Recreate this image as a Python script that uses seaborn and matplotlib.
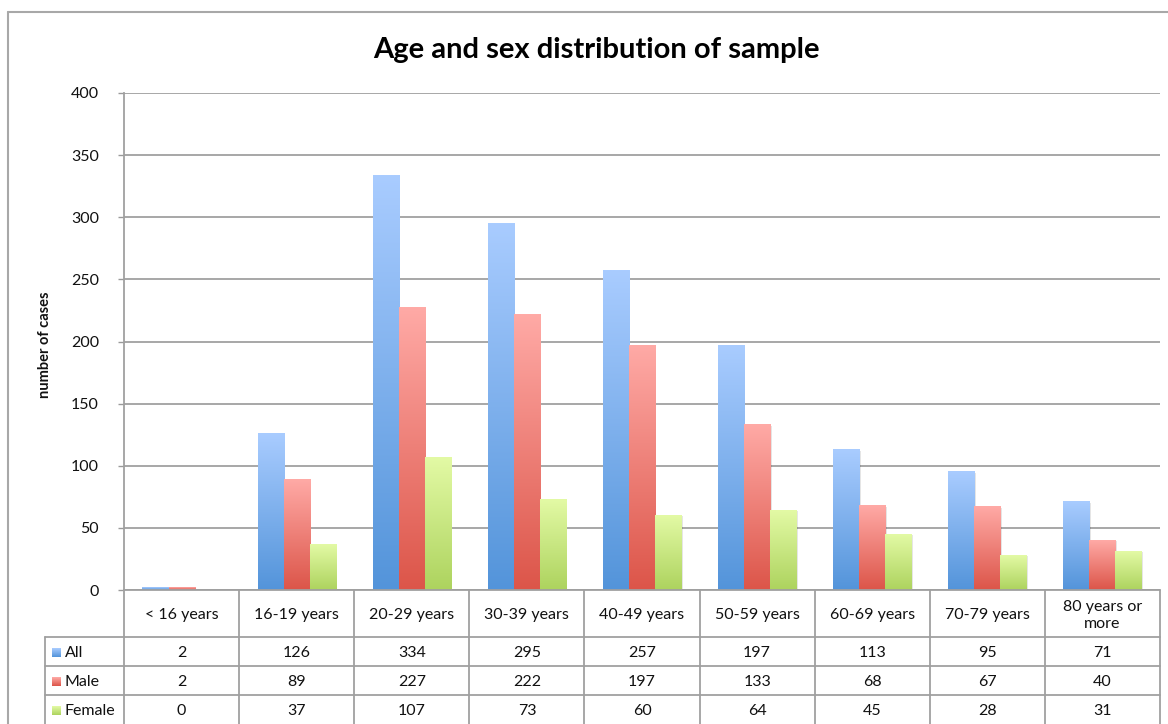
import numpy as np
import pandas as pd
import matplotlib
matplotlib.use("Agg")
import matplotlib.pyplot as plt
import seaborn as sns
from matplotlib.colors import LinearSegmentedColormap
from matplotlib.patches import Rectangle
from matplotlib.lines import Line2D
from matplotlib.transforms import blended_transform_factory

# ---- data -------------------------------------------------------------
age_groups = ["< 16 years", "16-19 years", "20-29 years", "30-39 years",
              "40-49 years", "50-59 years", "60-69 years", "70-79 years",
              "80 years or\nmore"]
series_names = ["All", "Male", "Female"]
all_cases = [2, 126, 334, 295, 257, 197, 113, 95, 71]
male_cases = [2, 89, 227, 222, 197, 133, 68, 67, 40]
female_cases = [0, 37, 107, 73, 60, 64, 45, 28, 31]
y_ticks = [0, 50, 100, 150, 200, 250, 300, 350, 400]

# gradient (top, bottom) colours per series
grad_colors = {
    "All": ("#A9CCFF", "#5394DA"),
    "Male": ("#FFAAA6", "#DC5549"),
    "Female": ("#E3FAA5", "#ADD35E"),
}

df = pd.DataFrame({
    "age": np.repeat(age_groups, 3),
    "series": series_names * len(age_groups),
    "cases": np.ravel(np.column_stack([all_cases, male_cases, female_cases])),
})

sns.set_theme(style="white")
plt.rcParams["font.family"] = ["Lato", "DejaVu Sans"]

W, H = 1168, 724
fig = plt.figure(figsize=(W / 100, H / 100), dpi=100)

# plot area in pixel coordinates
px_left, px_right, px_top, px_bottom = 124, 1160, 93, 590
ax = fig.add_axes([px_left / W, 1 - px_bottom / H,
                   (px_right - px_left) / W, (px_bottom - px_top) / H])

sns.barplot(data=df, x="age", y="cases", hue="series", hue_order=series_names,
            order=age_groups, width=0.68, palette=["#7FB0EC", "#EE7F77", "#C7E582"],
            ax=ax, legend=False, saturation=1)

ax.set_xlim(-0.5, len(age_groups) - 0.5)
ax.set_ylim(0, 400)
ax.set_yticks(y_ticks)
ax.set_yticklabels([str(t) for t in y_ticks], fontsize=11.5, color="#111111")
ax.tick_params(axis="y", length=4, width=1, color="#9A9A9A", pad=14, left=True)
ax.set_xticks([])
ax.set_xlabel("")
ax.set_ylabel("")
ax.grid(axis="y", color="#A0A0A0", linewidth=1.3)
ax.set_axisbelow(True)
for side in ["top", "right", "bottom"]:
    ax.spines[side].set_visible(False)
ax.spines["left"].set_color("#A0A0A0")
ax.spines["left"].set_linewidth(1.3)

# replace flat bar fills with vertical gradients (plus a soft shadow)
for container, name in zip(ax.containers, series_names):
    top_c, bot_c = grad_colors[name]
    cmap = LinearSegmentedColormap.from_list(name, [bot_c, top_c])
    for bar in container:
        h = bar.get_height()
        if h <= 0:
            bar.set_visible(False)
            continue
        x0, w = bar.get_x(), bar.get_width()
        ax.add_patch(Rectangle((x0 + 0.012, 0), w, h - 0.8, facecolor="#000000",
                               alpha=0.10, edgecolor="none", zorder=2))
        grad = np.linspace(0, 1, 256).reshape(-1, 1)
        ax.imshow(grad, cmap=cmap, origin="lower", aspect="auto",
                  extent=[x0, x0 + w, 0, h], zorder=3, interpolation="bilinear")
        bar.set_visible(False)
ax.set_xlim(-0.5, len(age_groups) - 0.5)
ax.set_ylim(0, 400)

fy = lambda py: 1 - py / H

# ---- title and axis label ---------------------------------------------------
fig.text(596 / W, fy(50), "Age and sex distribution of sample",
         ha="center", va="center", fontsize=21, fontweight="bold", color="#000000")
fig.text(45 / W, fy(345), "number of cases", rotation=90, ha="center",
         va="center", fontsize=10.5, fontweight="bold", color="#111111")

# ---- data table under the axis ----------------------------------------------
line_col = "#A0A0A0"
trans = blended_transform_factory(ax.transData, fig.transFigure)
header_top, header_bot = 590, 637
row_edges = [637, 666, 695, 724]
label_left = 45
n = len(age_groups)
tsize = 11.5

# vertical cell borders
for i in range(n + 1):
    fig.add_artist(Line2D([i - 0.5, i - 0.5], [fy(header_top), fy(H)],
                          transform=trans, color=line_col, lw=1.3))
# horizontal borders across categories
for yy in [header_top] + row_edges[:-1]:
    fig.add_artist(Line2D([-0.5, n - 0.5], [fy(yy), fy(yy)], transform=trans,
                          color=line_col, lw=1.3))
# label column borders
for yy in row_edges[:-1]:
    fig.add_artist(Line2D([label_left / W, px_left / W], [fy(yy), fy(yy)],
                          color=line_col, lw=1.3))
fig.add_artist(Line2D([label_left / W, label_left / W], [fy(637), fy(H)],
                      color=line_col, lw=1.3))

# category header
for i, lab in enumerate(age_groups):
    fig.text(i, fy((header_top + header_bot) / 2 + 2), lab, transform=trans,
             ha="center", va="center", fontsize=tsize, color="#111111",
             linespacing=1.2)

# value rows with legend keys
for r, (name, vals) in enumerate(zip(series_names,
                                     [all_cases, male_cases, female_cases])):
    yc = (row_edges[r] + row_edges[r + 1]) / 2 + 1.5
    top_c, bot_c = grad_colors[name]
    key_ax = fig.add_axes([52 / W, fy(yc + 4), 9 / W, 9 / H])
    key_ax.imshow(np.linspace(0, 1, 32).reshape(-1, 1),
                  cmap=LinearSegmentedColormap.from_list(name + "k", [bot_c, top_c]),
                  origin="lower", aspect="auto", extent=[0, 1, 0, 1])
    key_ax.set_axis_off()
    fig.text(65 / W, fy(yc), name, ha="left", va="center", fontsize=tsize,
             color="#111111")
    for i, v in enumerate(vals):
        fig.text(i, fy(yc), str(v), transform=trans, ha="center", va="center",
                 fontsize=tsize, color="#111111")

# outer chart frame
fig.add_artist(Line2D([8 / W, 8 / W], [0, fy(12)], color="#A8A8A8", lw=1.5))
fig.add_artist(Line2D([8 / W, 1], [fy(12), fy(12)], color="#A8A8A8", lw=1.5))

fig.savefig("out.png", dpi=100)
